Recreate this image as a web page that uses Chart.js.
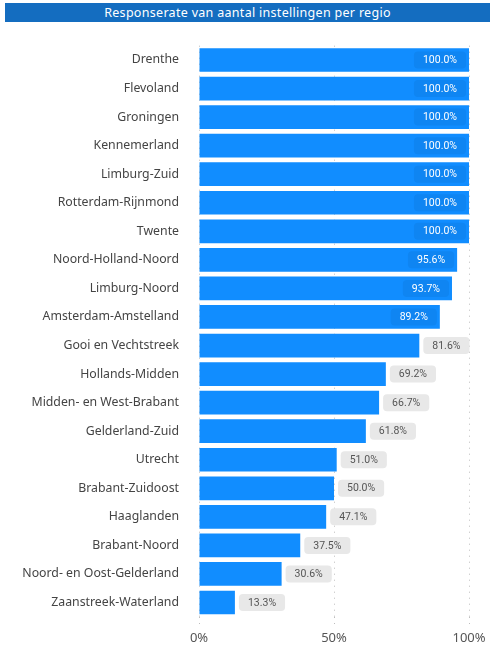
<!DOCTYPE html>
<html>
<head>
<meta charset="utf-8">
<script src="https://cdn.jsdelivr.net/npm/chart.js@4.4.1/dist/chart.umd.min.js"></script>
<style>
  html, body { margin: 0; padding: 0; background: #ffffff; }
  #wrap { position: relative; width: 492px; height: 648px; }
  #title {
    position: absolute; left: 5px; top: 3px; width: 485px; height: 19px;
    background: #146dc0; color: #ffffff; text-align: center;
    font-family: "Noto Sans", sans-serif; font-size: 12.5px; line-height: 19px;
    letter-spacing: 0.3px; z-index: 2;
  }
  canvas { position: absolute; left: 0; top: 0; }
</style>
</head>
<body>
<div id="wrap">
  <div id="title">Responserate van aantal instellingen per regio</div>
  <canvas id="c" width="492" height="648"></canvas>
</div>
<script>
const categories = [
  "Drenthe", "Flevoland", "Groningen", "Kennemerland", "Limburg-Zuid",
  "Rotterdam-Rijnmond", "Twente", "Noord-Holland-Noord", "Limburg-Noord",
  "Amsterdam-Amstelland", "Gooi en Vechtstreek", "Hollands-Midden",
  "Midden- en West-Brabant", "Gelderland-Zuid", "Utrecht", "Brabant-Zuidoost",
  "Haaglanden", "Brabant-Noord", "Noord- en Oost-Gelderland", "Zaanstreek-Waterland"
];
const responseRate = [
  100.0, 100.0, 100.0, 100.0, 100.0,
  100.0, 100.0, 95.6, 93.7,
  89.2, 81.6, 69.2,
  66.7, 61.8, 51.0, 50.0,
  47.1, 37.5, 30.6, 13.3
];
const xTickValues = [0, 50, 100];
const xTickLabels = ["0%", "50%", "100%"];

function roundRect(ctx, x, y, w, h, r) {
  ctx.beginPath();
  ctx.moveTo(x + r, y);
  ctx.lineTo(x + w - r, y);
  ctx.arcTo(x + w, y, x + w, y + r, r);
  ctx.lineTo(x + w, y + h - r);
  ctx.arcTo(x + w, y + h, x + w - r, y + h, r);
  ctx.lineTo(x + r, y + h);
  ctx.arcTo(x, y + h, x, y + h - r, r);
  ctx.lineTo(x, y + r);
  ctx.arcTo(x, y, x + r, y, r);
  ctx.closePath();
}

const valueLabels = {
  id: 'valueLabels',
  afterDatasetsDraw(chart) {
    const ctx = chart.ctx;
    const meta = chart.getDatasetMeta(0);
    ctx.save();
    ctx.font = '10.5px "Roboto", sans-serif';
    ctx.textBaseline = 'middle';
    ctx.textAlign = 'left';
    meta.data.forEach((bar, i) => {
      const v = chart.data.datasets[0].data[i];
      const txt = v.toFixed(1) + '%';
      const tw = ctx.measureText(txt).width;
      const bw = tw + 18, bh = 17;
      const inside = v >= 85;
      let bx;
      if (inside) {
        bx = bar.x - 3 - bw;
        ctx.fillStyle = '#0f85f2';
      } else {
        bx = bar.x + 4;
        ctx.fillStyle = '#e8e8e8';
      }
      const by = bar.y - bh / 2;
      roundRect(ctx, bx, by, bw, bh, 4);
      ctx.fill();
      ctx.fillStyle = inside ? '#ffffff' : '#555555';
      ctx.fillText(txt, bx + 9, bar.y + 0.5);
    });
    ctx.restore();
  }
};

new Chart(document.getElementById('c'), {
  type: 'bar',
  data: {
    labels: categories,
    datasets: [{
      data: responseRate,
      backgroundColor: '#118dff',
      borderWidth: 0,
      barPercentage: 0.83,
      categoryPercentage: 1.0
    }]
  },
  options: {
    indexAxis: 'y',
    responsive: false,
    animation: false,
    layout: { padding: { top: 45.7, right: 23, bottom: 0, left: 0 } },
    plugins: { legend: { display: false }, tooltip: { enabled: false }, title: { display: false } },
    scales: {
      x: {
        min: 0, max: 100,
        afterFit(scale) { scale.height = 31.2; },
        afterBuildTicks(scale) { scale.ticks = xTickValues.map(v => ({ value: v })); },
        ticks: {
          padding: 4,
          color: '#555555',
          font: { family: '"Noto Sans", sans-serif', size: 13 },
          callback: (v) => xTickLabels[xTickValues.indexOf(v)]
        },
        grid: {
          color: '#bdbdbd',
          lineWidth: 1,
          tickBorderDash: [1, 5],
          tickLength: 10,
          drawTicks: true
        },
        border: { display: false, dash: [1, 5] }
      },
      y: {
        afterFit(scale) { scale.width = 199; },
        ticks: {
          padding: 12,
          color: '#444444',
          font: { family: '"Noto Sans", sans-serif', size: 12.3 },
          autoSkip: false
        },
        grid: { display: false },
        border: { display: false }
      }
    }
  },
  plugins: [valueLabels]
});
</script>
</body>
</html>
